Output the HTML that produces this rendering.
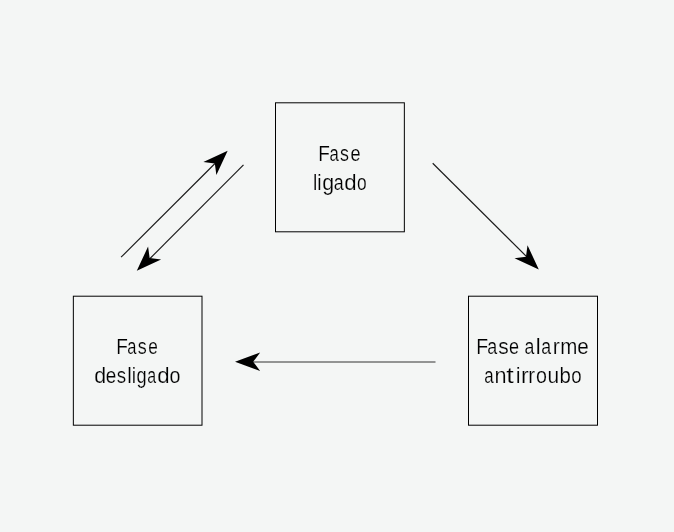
<!DOCTYPE html>
<html><head><meta charset="utf-8">
<style>
html,body{margin:0;padding:0;background:#f4f6f5;}
body{width:674px;height:532px;overflow:hidden;}
svg{display:block;will-change:transform;}
text{font-family:"Liberation Sans",sans-serif;font-size:21.5px;fill:#000;stroke:#f4f6f5;stroke-width:0.2px;}
</style></head><body>
<svg width="674" height="532" viewBox="0 0 674 532">
<rect x="0" y="0" width="674" height="532" fill="#f4f6f5"/>
<g fill="none" stroke="#1a1a1a" stroke-width="1">
<rect stroke="#000" x="275.5" y="102.8" width="128.85" height="129"/>
<rect stroke="#000" x="73.35" y="296.2" width="128.65" height="129"/>
<rect stroke="#000" x="468.5" y="296.2" width="129" height="129"/>
<line stroke-width="1.15" x1="121.1" y1="257.2" x2="215" y2="163.5"/>
<line stroke-width="1.15" x1="243.5" y1="164.85" x2="150" y2="258.5"/>
<line stroke-width="1.15" x1="432.7" y1="163.25" x2="526.5" y2="256.5"/>
<line stroke="#333" x1="435.5" y1="362" x2="253" y2="362"/>
</g>
<g fill="#000" stroke="none">
<polygon points="0,0 -25.15,-9.2 -18.15,0 -25.15,9.2" transform="translate(227.65,150.65) rotate(-45)"/>
<polygon points="0,0 -25.15,-9.2 -18.15,0 -25.15,9.2" transform="translate(136.8,270.8) rotate(135)"/>
<polygon points="0,0 -25.15,-9.2 -18.15,0 -25.15,9.2" transform="translate(538.8,269.5) rotate(45)"/>
<polygon points="0,0 -25.15,-9.2 -18.15,0 -25.15,9.2" transform="translate(235.0,361.75) rotate(180)"/>
</g>
<text x="318.34" y="161.0" textLength="11.62" lengthAdjust="spacingAndGlyphs">F</text>
<text x="329.49" y="161.0" textLength="9.31" lengthAdjust="spacingAndGlyphs">a</text>
<text x="340.10" y="161.0" textLength="8.94" lengthAdjust="spacingAndGlyphs">s</text>
<text x="350.53" y="161.0" textLength="10.07" lengthAdjust="spacingAndGlyphs">e</text>
<text x="313.00" y="189.7" textLength="4.30" lengthAdjust="spacingAndGlyphs">l</text>
<text x="317.31" y="189.7" textLength="4.30" lengthAdjust="spacingAndGlyphs">i</text>
<text x="322.30" y="189.7" textLength="11.87" lengthAdjust="spacingAndGlyphs">g</text>
<text x="333.64" y="189.7" textLength="9.96" lengthAdjust="spacingAndGlyphs">a</text>
<text x="344.27" y="189.7" textLength="12.37" lengthAdjust="spacingAndGlyphs">d</text>
<text x="356.97" y="189.7" textLength="9.66" lengthAdjust="spacingAndGlyphs">o</text>
<text x="116.34" y="354.0" textLength="11.62" lengthAdjust="spacingAndGlyphs">F</text>
<text x="127.20" y="354.0" textLength="9.20" lengthAdjust="spacingAndGlyphs">a</text>
<text x="137.70" y="354.0" textLength="9.00" lengthAdjust="spacingAndGlyphs">s</text>
<text x="148.17" y="354.0" textLength="9.60" lengthAdjust="spacingAndGlyphs">e</text>
<text x="94.30" y="382.7" textLength="11.87" lengthAdjust="spacingAndGlyphs">d</text>
<text x="105.79" y="382.7" textLength="10.55" lengthAdjust="spacingAndGlyphs">e</text>
<text x="116.78" y="382.7" textLength="9.40" lengthAdjust="spacingAndGlyphs">s</text>
<text x="127.32" y="382.7" textLength="4.55" lengthAdjust="spacingAndGlyphs">l</text>
<text x="131.71" y="382.7" textLength="4.30" lengthAdjust="spacingAndGlyphs">i</text>
<text x="136.43" y="382.7" textLength="10.14" lengthAdjust="spacingAndGlyphs">g</text>
<text x="147.22" y="382.7" textLength="8.88" lengthAdjust="spacingAndGlyphs">a</text>
<text x="157.27" y="382.7" textLength="12.37" lengthAdjust="spacingAndGlyphs">d</text>
<text x="169.47" y="382.7" textLength="10.95" lengthAdjust="spacingAndGlyphs">o</text>
<text x="476.21" y="353.8" textLength="11.87" lengthAdjust="spacingAndGlyphs">F</text>
<text x="487.34" y="353.8" textLength="9.96" lengthAdjust="spacingAndGlyphs">a</text>
<text x="498.32" y="353.8" textLength="10.49" lengthAdjust="spacingAndGlyphs">s</text>
<text x="508.93" y="353.8" textLength="10.07" lengthAdjust="spacingAndGlyphs">e</text>
<text x="524.55" y="353.8" textLength="9.85" lengthAdjust="spacingAndGlyphs">a</text>
<text x="535.49" y="353.8" textLength="5.31" lengthAdjust="spacingAndGlyphs">l</text>
<text x="541.15" y="353.8" textLength="9.85" lengthAdjust="spacingAndGlyphs">a</text>
<text x="552.79" y="353.8" textLength="7.06" lengthAdjust="spacingAndGlyphs">r</text>
<text x="560.34" y="353.8" textLength="17.12" lengthAdjust="spacingAndGlyphs">m</text>
<text x="577.32" y="353.8" textLength="11.50" lengthAdjust="spacingAndGlyphs">e</text>
<text x="484.18" y="382.8" textLength="9.42" lengthAdjust="spacingAndGlyphs">a</text>
<text x="494.46" y="382.8" textLength="12.04" lengthAdjust="spacingAndGlyphs">n</text>
<text x="506.29" y="382.8" textLength="7.51" lengthAdjust="spacingAndGlyphs">t</text>
<text x="515.65" y="382.8" textLength="4.80" lengthAdjust="spacingAndGlyphs">i</text>
<text x="520.96" y="382.8" textLength="7.73" lengthAdjust="spacingAndGlyphs">r</text>
<text x="528.15" y="382.8" textLength="6.79" lengthAdjust="spacingAndGlyphs">r</text>
<text x="536.07" y="382.8" textLength="10.95" lengthAdjust="spacingAndGlyphs">o</text>
<text x="547.54" y="382.8" textLength="11.65" lengthAdjust="spacingAndGlyphs">u</text>
<text x="559.58" y="382.8" textLength="11.38" lengthAdjust="spacingAndGlyphs">b</text>
<text x="571.22" y="382.8" textLength="10.37" lengthAdjust="spacingAndGlyphs">o</text>
</svg>
</body></html>
